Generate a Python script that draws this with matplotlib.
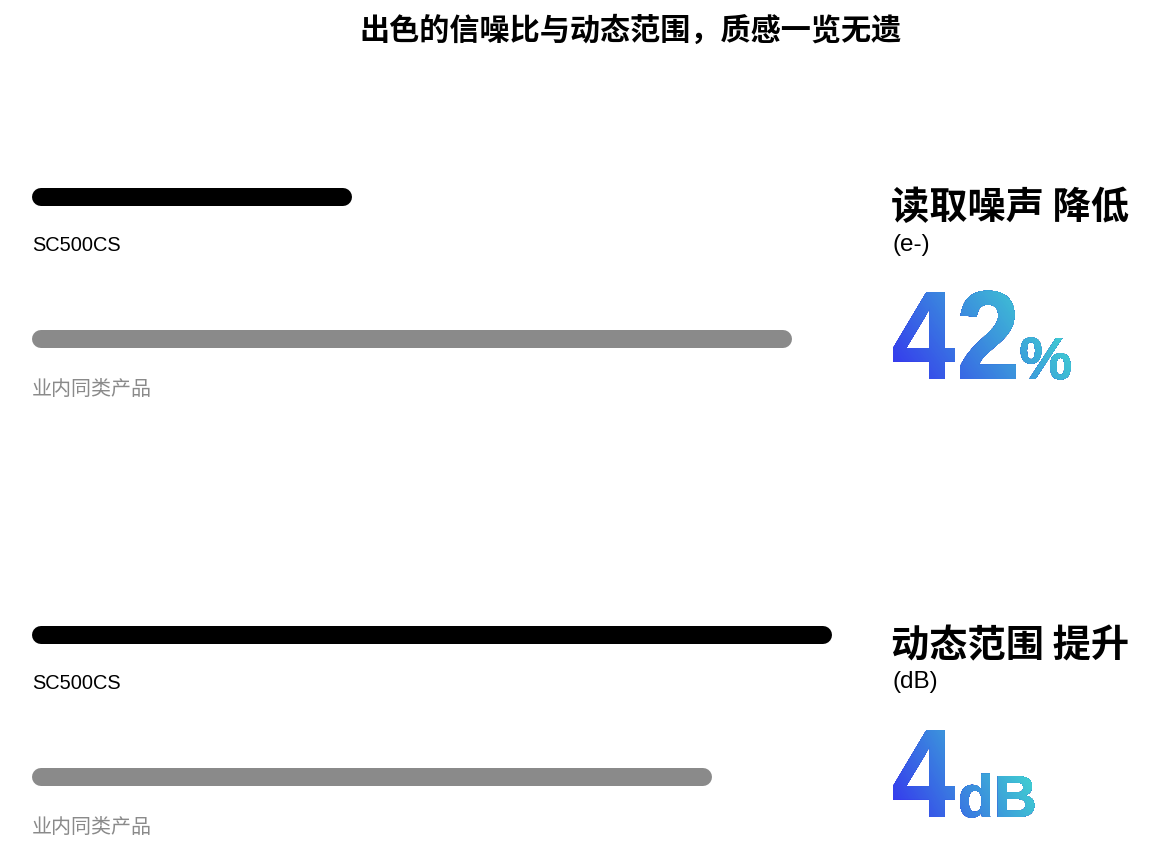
import numpy as np
import matplotlib
matplotlib.use('Agg')
import matplotlib.pyplot as plt
from matplotlib.textpath import TextPath
from matplotlib.font_manager import FontProperties
from matplotlib.patches import PathPatch, Polygon
from matplotlib.path import Path
from matplotlib.transforms import Affine2D
from matplotlib.colors import to_rgb

# data
title = '出色的信噪比与动态范围，质感一览无遗'
products = ['SC500CS', '业内同类产品']
metrics = ['读取噪声 降低', '动态范围 提升']
units = ['(e-)', '(dB)']
read_noise = [40, 95]        # relative bar length
dynamic_range = [100, 85]
gains = ['42', '4']
gain_suffix = ['%', 'dB']

bar_colors = ['#000000', '#8a8a8a']
label_colors = ['#000000', '#8a8a8a']
grad_start = '#3434ee'
grad_end = '#40d4d0'

plt.rcParams['font.family'] = ['Liberation Sans', 'Noto Sans CJK SC', 'DejaVu Sans']

W, H = 1159, 862
fig = plt.figure(figsize=(W / 100, H / 100), dpi=100)
fig.patch.set_facecolor('white')

lw = 18 * 72 / 100  # 18 px thick bars
cap = 9 * 100 / 800  # cap radius in data units


def bar_panel(top_px, values):
    ax = fig.add_axes([32 / W, 1 - (top_px + 240) / H, 800 / W, 240 / H])
    ax.set_xlim(0, 100)
    ax.set_ylim(1.5, -0.19)
    ax.axis('off')
    for i, v in enumerate(values):
        ax.plot([cap, v - cap], [i, i], color=bar_colors[i], lw=lw,
                solid_capstyle='round', clip_on=False)
        ax.text(0, i + 0.335 + 0.015 * i, products[i], color=label_colors[i],
                fontsize=14.4, ha='left', va='center')
    return ax


bar_panel(171, read_noise)
bar_panel(609, dynamic_range)

# overlay in pixel coordinates for the headings
ov = fig.add_axes([0, 0, 1, 1])
ov.set_xlim(0, W)
ov.set_ylim(H, 0)
ov.axis('off')
ov.patch.set_alpha(0)

ov.text(631, 31, title, fontsize=21.7, fontweight='bold',
        family=['Noto Sans CJK SC'], ha='center', va='center')

fp_big = FontProperties(family='Liberation Sans', weight='bold')

# glyph scale fitted to the reference: digit ink height 87 px, "4" ~60 px wide
ref4 = TextPath((0, 0), '4', size=100, prop=fp_big).get_extents()
sy = 87 / ref4.height
sx = 62 / ref4.width
digit_step = 67
c0, c1 = np.array(to_rgb(grad_start)), np.array(to_rgb(grad_end))


def gradient_number(x, baseline, main, suffix):
    parts = []
    right = x
    for k, ch in enumerate(main):
        p = TextPath((0, 0), ch, size=100, prop=fp_big)
        e = p.get_extents()
        tr = Affine2D().translate(-e.x0, 0).scale(sx, -sy).translate(x + k * digit_step, baseline)
        parts.append(p.transformed(tr))
        right = x + k * digit_step + e.width * sx
    p_suf = TextPath((0, 0), suffix, size=100, prop=fp_big)
    es = p_suf.get_extents()
    s_suf = 41 / ref4.height
    t_suf = Affine2D().translate(-es.x0, 0).scale(s_suf, -s_suf).translate(right + 5, baseline)
    parts.append(p_suf.transformed(t_suf))
    path = Path.make_compound_path(*parts)
    bb = path.get_extents()
    x0, x1, y0, y1 = bb.x0, bb.x1, bb.y0, bb.y1
    w, h = x1 - x0, y1 - y0
    ax_, ay_ = 0.85, 0.3  # weights of the diagonal gradient

    def xline(t, y):
        return x0 + w * (t - ay_ * (y1 - y) / h) / ax_

    ya, yb = y0 - 10, y1 + 10
    for t in np.linspace(-0.1, 1.15, 90):
        tc = min(max(t, 0), 1)
        col = c0 * (1 - tc) + c1 * tc
        band = Polygon([(xline(t, ya), ya), (xline(t, yb), yb),
                        (x1 + 400, yb), (x1 + 400, ya)],
                       closed=True, transform=ov.transData)
        pp = PathPatch(path, facecolor=col, edgecolor='none')
        ov.add_patch(pp)
        pp.set_clip_path(band)


heading_y = [207, 646]
unit_y = [245, 682]
big_base = [380, 818]
for i in range(2):
    ov.text(891, heading_y[i], metrics[i], fontsize=27.5, fontweight='bold',
            family=['Noto Sans CJK SC'], ha='left', va='center')
    ov.text(892, unit_y[i], units[i], fontsize=17.5, ha='left', va='center')
    gradient_number(893, big_base[i], gains[i], gain_suffix[i])

ov.set_xlim(0, W)
ov.set_ylim(H, 0)

fig.savefig('out.png', dpi=100, facecolor='white')
